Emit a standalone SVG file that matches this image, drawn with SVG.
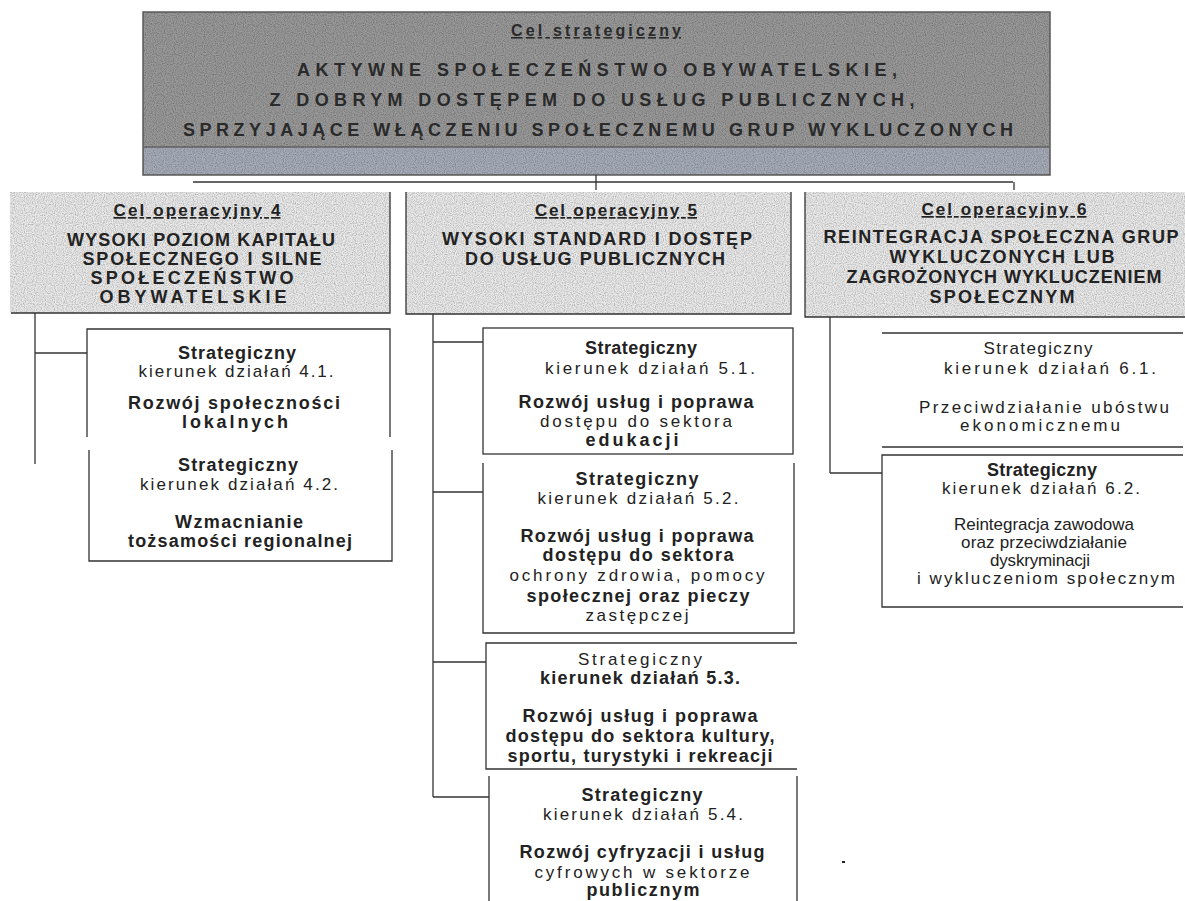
<svg xmlns="http://www.w3.org/2000/svg" width="1185" height="901" viewBox="0 0 1185 901">
<defs>
<filter id="grain" x="0" y="0" width="100%" height="100%">
<feTurbulence type="fractalNoise" baseFrequency="0.9" numOctaves="1" seed="4" result="n"/>
<feColorMatrix in="n" type="matrix" values="0 0 0 0 0  0 0 0 0 0  0 0 0 0 0  1.1 0 0 0 -0.42" result="a"/>
<feComposite in="a" in2="SourceGraphic" operator="in" result="s"/>
<feMerge><feMergeNode in="SourceGraphic"/><feMergeNode in="s"/></feMerge>
</filter>
</defs>
<style>
text{font-family:"Liberation Sans",Arial,sans-serif;fill:#222;text-anchor:middle;font-size:17px}
.b{font-weight:bold;font-size:18px}
.u{text-decoration:underline;font-size:17px}
.h{font-weight:bold;font-size:18px}
.top{font-weight:bold;fill:#2a2a2a;font-size:18px}
.ln{stroke:#333;stroke-width:1.3;fill:none}
.op{fill:#e9e9e9;filter:url(#grain)}
</style>
<rect width="1185" height="901" fill="#fff"/>
<g id="cel-strategiczny">
<rect x="143" y="12" width="907" height="163" fill="#999" filter="url(#grain)"/>
<rect x="144" y="147" width="905" height="27" fill="#a6acb8" filter="url(#grain)"/>
<rect x="143" y="12" width="907" height="163" fill="none" stroke="#5a5a5a" stroke-width="1.5"/>
<line x1="144" y1="147" x2="1049" y2="147" stroke="#444" stroke-width="1"/>
<text x="596" y="36" class="top u" style="font-size:16px" textLength="170" lengthAdjust="spacing">Cel strategiczny</text>
<text x="597" y="76" class="top" textLength="600" lengthAdjust="spacing">AKTYWNE SPOŁECZEŃSTWO OBYWATELSKIE,</text>
<text x="592" y="106" class="top" textLength="645" lengthAdjust="spacing">Z DOBRYM DOSTĘPEM DO USŁUG PUBLICZNYCH,</text>
<text x="598" y="136" class="top" textLength="830" lengthAdjust="spacing">SPRZYJAJĄCE WŁĄCZENIU SPOŁECZNEMU GRUP WYKLUCZONYCH</text>
</g>
<g id="connectors" class="ln">
<line x1="193" y1="182" x2="1013" y2="182"/>
<line x1="596" y1="175" x2="596" y2="190"/>
<line x1="1014" y1="182" x2="1014" y2="190"/>
<line x1="35" y1="313" x2="35" y2="464"/>
<line x1="35" y1="353" x2="87" y2="353"/>
<line x1="433" y1="314" x2="433" y2="797"/>
<line x1="433" y1="342" x2="483" y2="342"/>
<line x1="433" y1="492" x2="483" y2="492"/>
<line x1="433" y1="662" x2="486" y2="662"/>
<line x1="433" y1="797" x2="489" y2="797"/>
<line x1="830" y1="317" x2="830" y2="473"/>
<line x1="830" y1="473" x2="882" y2="473"/>
</g>
<g id="cel-op-4">
<rect x="10" y="192" width="380" height="121" class="op"/>
<path class="ln" d="M390 192V313H11"/>
<text x="197" y="216" class="b u" textLength="167" lengthAdjust="spacing">Cel operacyjny 4</text>
<text x="201" y="246" class="h" textLength="268" lengthAdjust="spacing">WYSOKI POZIOM KAPITAŁU</text>
<text x="202" y="265" class="h" textLength="239" lengthAdjust="spacing">SPOŁECZNEGO I SILNE</text>
<text x="192" y="284" class="h" textLength="203" lengthAdjust="spacing">SPOŁECZEŃSTWO</text>
<text x="193" y="303" class="h" textLength="187" lengthAdjust="spacing">OBYWATELSKIE</text>
</g>
<g id="cel-op-5">
<rect x="406" y="192" width="385" height="122" class="op"/>
<path class="ln" d="M406 192V314H791V192"/>
<text x="616" y="216" class="b u" textLength="162" lengthAdjust="spacing">Cel operacyjny 5</text>
<text x="597" y="245" class="h" textLength="310" lengthAdjust="spacing">WYSOKI STANDARD I DOSTĘP</text>
<text x="595" y="265" class="h" textLength="260" lengthAdjust="spacing">DO USŁUG PUBLICZNYCH</text>
</g>
<g id="cel-op-6">
<rect x="805" y="192" width="380" height="125" class="op"/>
<path class="ln" d="M805 192V317H1185"/>
<text x="1004" y="215" class="b u" textLength="165" lengthAdjust="spacing">Cel operacyjny 6</text>
<text x="1001" y="243" class="h" textLength="355" lengthAdjust="spacing">REINTEGRACJA SPOŁECZNA GRUP</text>
<text x="1002" y="263" class="h" textLength="225" lengthAdjust="spacing">WYKLUCZONYCH LUB</text>
<text x="1004" y="283" class="h" textLength="315" lengthAdjust="spacing">ZAGROŻONYCH WYKLUCZENIEM</text>
<text x="1002" y="303" class="h" textLength="145" lengthAdjust="spacing">SPOŁECZNYM</text>
</g>
<g id="kierunek-4-1">
<path class="ln" d="M87 437V329H390V437"/>
<text x="237" y="359" class="b" textLength="118" lengthAdjust="spacing">Strategiczny</text>
<text x="236" y="377" textLength="195" lengthAdjust="spacing">kierunek działań 4.1.</text>
<text x="234" y="409" class="b" textLength="212" lengthAdjust="spacing">Rozwój społeczności</text>
<text x="235" y="428" class="b" textLength="106" lengthAdjust="spacing">lokalnych</text>
</g>
<g id="kierunek-4-2">
<path class="ln" d="M89 450V561H392V450"/>
<text x="238" y="471" class="b" textLength="120" lengthAdjust="spacing">Strategiczny</text>
<text x="239" y="490" textLength="198" lengthAdjust="spacing">kierunek działań 4.2.</text>
<text x="239" y="528" class="b" textLength="128" lengthAdjust="spacing">Wzmacnianie</text>
<text x="240" y="547" class="b" textLength="224" lengthAdjust="spacing">tożsamości regionalnej</text>
</g>
<g id="kierunek-5-1">
<rect x="483" y="328" width="310" height="126" class="ln"/>
<text x="641" y="354" class="b" textLength="112" lengthAdjust="spacing">Strategiczny</text>
<text x="650" y="374" textLength="210" lengthAdjust="spacing">kierunek działań 5.1.</text>
<text x="636" y="408" class="b" textLength="235" lengthAdjust="spacing">Rozwój usług i poprawa</text>
<text x="636" y="427" textLength="192" lengthAdjust="spacing">dostępu do sektora</text>
<text x="632" y="446" class="b" textLength="93" lengthAdjust="spacing">edukacji</text>
</g>
<g id="kierunek-5-2">
<path class="ln" d="M483 463V633H794V463"/>
<text x="637" y="485" class="b" textLength="123" lengthAdjust="spacing">Strategiczny</text>
<text x="638" y="504" textLength="201" lengthAdjust="spacing">kierunek działań 5.2.</text>
<text x="637" y="542" class="b" textLength="233" lengthAdjust="spacing">Rozwój usług i poprawa</text>
<text x="638" y="561" class="b" textLength="191" lengthAdjust="spacing">dostępu do sektora</text>
<text x="637" y="581" textLength="255" lengthAdjust="spacing">ochrony zdrowia, pomocy</text>
<text x="638" y="602" class="b" textLength="223" lengthAdjust="spacing">społecznej oraz pieczy</text>
<text x="637" y="621" textLength="103" lengthAdjust="spacing">zastępczej</text>
</g>
<g id="kierunek-5-3">
<path class="ln" d="M797 643H486V769H797"/>
<text x="640" y="665" textLength="124" lengthAdjust="spacing">Strategiczny</text>
<text x="640" y="684" class="b" textLength="200" lengthAdjust="spacing">kierunek działań 5.3.</text>
<text x="640" y="722" class="b" textLength="235" lengthAdjust="spacing">Rozwój usług i poprawa</text>
<text x="640" y="742" class="b" textLength="269" lengthAdjust="spacing">dostępu do sektora kultury,</text>
<text x="640" y="762" class="b" textLength="265" lengthAdjust="spacing">sportu, turystyki i rekreacji</text>
</g>
<g id="kierunek-5-4">
<path class="ln" d="M489 776V901M797 776V901"/>
<text x="642" y="801" class="b" textLength="121" lengthAdjust="spacing">Strategiczny</text>
<text x="643" y="820" textLength="200" lengthAdjust="spacing">kierunek działań 5.4.</text>
<text x="642" y="858" class="b" textLength="245" lengthAdjust="spacing">Rozwój cyfryzacji i usług</text>
<text x="642" y="878" textLength="215" lengthAdjust="spacing">cyfrowych w sektorze</text>
<text x="643" y="896" class="b" textLength="113" lengthAdjust="spacing">publicznym</text>
</g>
<g id="kierunek-6-1">
<path class="ln" d="M882 333H1183M882 447H1183"/>
<text x="1038" y="354" textLength="109" lengthAdjust="spacing">Strategiczny</text>
<text x="1050" y="374" textLength="212" lengthAdjust="spacing">kierunek działań 6.1.</text>
<text x="1044" y="413" textLength="250" lengthAdjust="spacing">Przeciwdziałanie ubóstwu</text>
<text x="1040" y="431" textLength="160" lengthAdjust="spacing">ekonomicznemu</text>
</g>
<g id="kierunek-6-2">
<path class="ln" d="M1183 455H882V607H1183"/>
<text x="1042" y="476" class="b" textLength="110" lengthAdjust="spacing">Strategiczny</text>
<text x="1041" y="494" textLength="198" lengthAdjust="spacing">kierunek działań 6.2.</text>
<text x="1044" y="530" textLength="180" lengthAdjust="spacing">Reintegracja zawodowa</text>
<text x="1044" y="548" textLength="166" lengthAdjust="spacing">oraz przeciwdziałanie</text>
<text x="1040" y="566" textLength="100" lengthAdjust="spacing">dyskryminacji</text>
<text x="1046" y="584" textLength="258" lengthAdjust="spacing">i wykluczeniom społecznym</text>
</g>
<rect x="842" y="861" width="3" height="2" fill="#222"/>
</svg>
